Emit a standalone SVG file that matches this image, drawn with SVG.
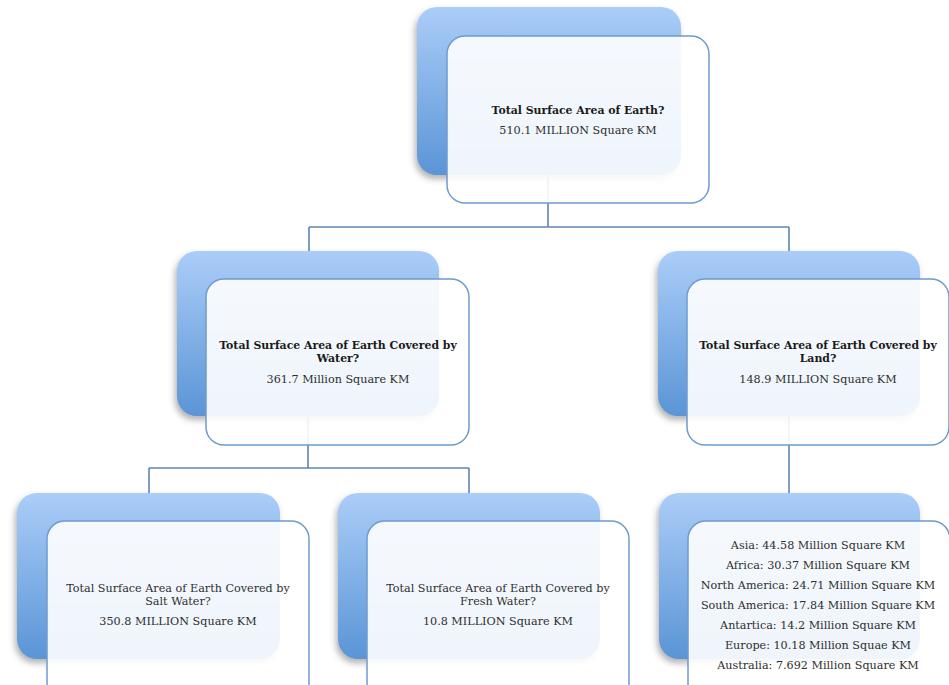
<svg xmlns="http://www.w3.org/2000/svg" width="949" height="685" viewBox="0 0 949 685">
<style>
.back{fill:url(#bg);filter:url(#sh);}
.front{fill:#ffffff;fill-opacity:0.9;stroke:#6e9bcd;stroke-width:1.5;}
.conn{fill:none;stroke:#5d86b4;stroke-width:1.6;}
text{font-family:"DejaVu Serif","Liberation Serif",serif;font-size:11.2px;text-anchor:middle;fill:#2e2e2e;}
.b{font-weight:bold;fill:#1a1a1a;font-size:10.9px;}
</style>
<defs>
<linearGradient id="bg" x1="0" y1="0" x2="0" y2="1">
<stop offset="0" stop-color="#abcdf8"/>
<stop offset="1" stop-color="#5a95d6"/>
</linearGradient>
<filter id="sh" x="-10%" y="-10%" width="125%" height="130%">
<feDropShadow dx="-2" dy="4" stdDeviation="3" flood-color="#555" flood-opacity="0.45"/>
</filter>
</defs>
<rect width="949" height="685" fill="#ffffff"/>
<g id="connectors">
<path class="conn" d="M548,170 V227 M309,227 H789 M309,227 V252 M789,227 V252"/>
<path class="conn" d="M308,410 V468 M149,468 H469 M149,468 V494 M469,468 V494"/>
<path class="conn" d="M789,410 V494"/>
</g>
<g id="n-total">
<rect class="back" x="417" y="7" width="264" height="168" rx="20"/>
<rect class="front" x="447" y="36" width="262" height="167" rx="18"/>
<text class="b" x="578" y="114">Total Surface Area of Earth?</text>
<text x="578" y="134">510.1 MILLION Square KM</text>
</g>
<g id="n-water">
<rect class="back" x="177" y="251" width="262" height="165" rx="20"/>
<rect class="front" x="206" y="279" width="263" height="166" rx="18"/>
<text class="b" x="338" y="349">Total Surface Area of Earth Covered by</text>
<text class="b" x="338" y="362">Water?</text>
<text x="338" y="383">361.7 Million Square KM</text>
</g>
<g id="n-land">
<rect class="back" x="658" y="251" width="262" height="165" rx="20"/>
<rect class="front" x="687" y="279" width="262" height="166" rx="18"/>
<text class="b" x="818" y="349">Total Surface Area of Earth Covered by</text>
<text class="b" x="818" y="362">Land?</text>
<text x="818" y="383">148.9 MILLION Square KM</text>
</g>
<g id="n-salt">
<rect class="back" x="17" y="493" width="263" height="166" rx="20"/>
<rect class="front" x="47" y="521" width="262" height="180" rx="18"/>
<text x="178" y="592">Total Surface Area of Earth Covered by</text>
<text x="178" y="605">Salt Water?</text>
<text x="178" y="625">350.8 MILLION Square KM</text>
</g>
<g id="n-fresh">
<rect class="back" x="338" y="493" width="262" height="166" rx="20"/>
<rect class="front" x="367" y="521" width="262" height="180" rx="18"/>
<text x="498" y="592">Total Surface Area of Earth Covered by</text>
<text x="498" y="605">Fresh Water?</text>
<text x="498" y="625">10.8 MILLION Square KM</text>
</g>
<g id="n-continents">
<rect class="back" x="659" y="493" width="261" height="166" rx="20"/>
<rect class="front" x="688" y="521" width="262" height="180" rx="18"/>
<text x="818" y="549">Asia: 44.58 Million Square KM</text>
<text x="818" y="569">Africa: 30.37 Million Square KM</text>
<text x="818" y="589">North America: 24.71 Million Square KM</text>
<text x="818" y="609">South America: 17.84 Million Square KM</text>
<text x="818" y="629">Antartica: 14.2 Million Square KM</text>
<text x="818" y="649">Europe: 10.18 Million Squae KM</text>
<text x="818" y="669">Australia: 7.692 Million Square KM</text>
</g>
</svg>
